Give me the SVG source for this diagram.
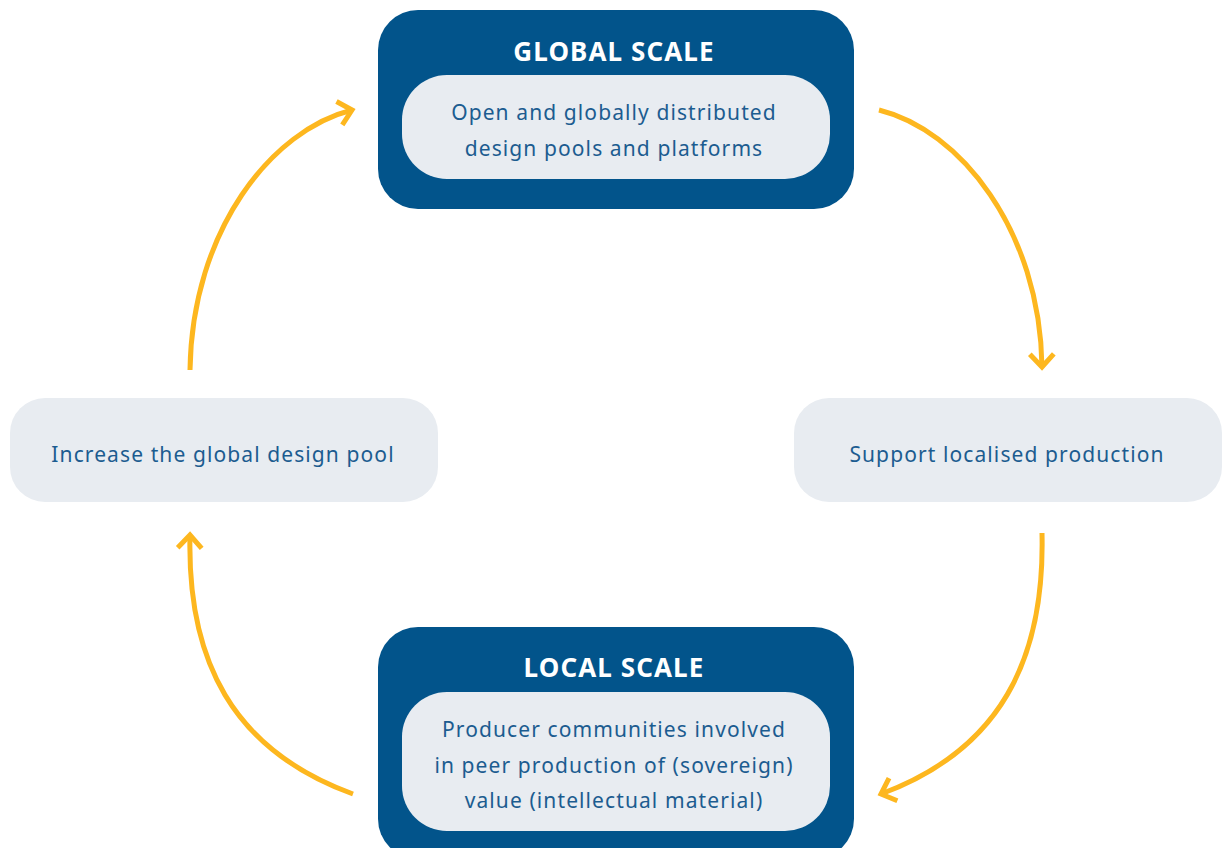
<svg xmlns="http://www.w3.org/2000/svg" width="1223" height="848" viewBox="0 0 1223 848">
<defs>
<style>
.outer{fill:#02548b}
.inner{fill:#e8ecf1}
.title{font-family:"Noto Sans","Liberation Sans",sans-serif;font-weight:bold;font-size:26px;fill:#ffffff;text-anchor:middle;letter-spacing:1.1px}
.lbl{font-family:"Noto Sans","Liberation Sans",sans-serif;font-size:21px;fill:#1c5c90;text-anchor:middle;letter-spacing:1.1px}
.arc{fill:none;stroke:#fdb71f;stroke-width:5}
</style>
<marker id="head" viewBox="0 0 20 30" refX="16" refY="15" markerWidth="20" markerHeight="30" markerUnits="userSpaceOnUse" orient="auto">
<path d="M3,3 L16,15 L3,27" fill="none" stroke="#fdb71f" stroke-width="5"/>
</marker>
</defs>
<rect width="1223" height="848" fill="#ffffff"/>
<g id="global">
<rect class="outer" x="378" y="10" width="476" height="199" rx="40"/>
<text class="title" x="614" y="61">GLOBAL SCALE</text>
<rect class="inner" x="402" y="75" width="428" height="104" rx="45"/>
<text class="lbl" x="614" y="120">Open and globally distributed</text>
<text class="lbl" x="614" y="156">design pools and platforms</text>
</g>
<g id="local">
<rect class="outer" x="378" y="627" width="476" height="232" rx="40"/>
<text class="title" x="614" y="677">LOCAL SCALE</text>
<rect class="inner" x="402" y="692" width="428" height="139" rx="45"/>
<text class="lbl" x="614" y="737">Producer communities involved</text>
<text class="lbl" x="614" y="773">in peer production of (sovereign)</text>
<text class="lbl" x="614" y="808">value (intellectual material)</text>
</g>
<g id="increase">
<rect class="inner" x="10" y="398" width="428" height="104" rx="35"/>
<text class="lbl" x="223" y="462">Increase the global design pool</text>
</g>
<g id="support">
<rect class="inner" x="794" y="398" width="428" height="104" rx="35"/>
<text class="lbl" x="1007" y="462">Support localised production</text>
</g>
<g id="connectors">
<path class="arc" d="M879,110 C960,130 1040,230 1042,367" marker-end="url(#head)"/>
<path class="arc" d="M1042,533 C1045,660 1000,750 881,794" marker-end="url(#head)"/>
<path class="arc" d="M353,794 C232,750 187,660 190,535" marker-end="url(#head)"/>
<path class="arc" d="M190,370 C192,230 272,130 352,110" marker-end="url(#head)"/>
</g>
</svg>
